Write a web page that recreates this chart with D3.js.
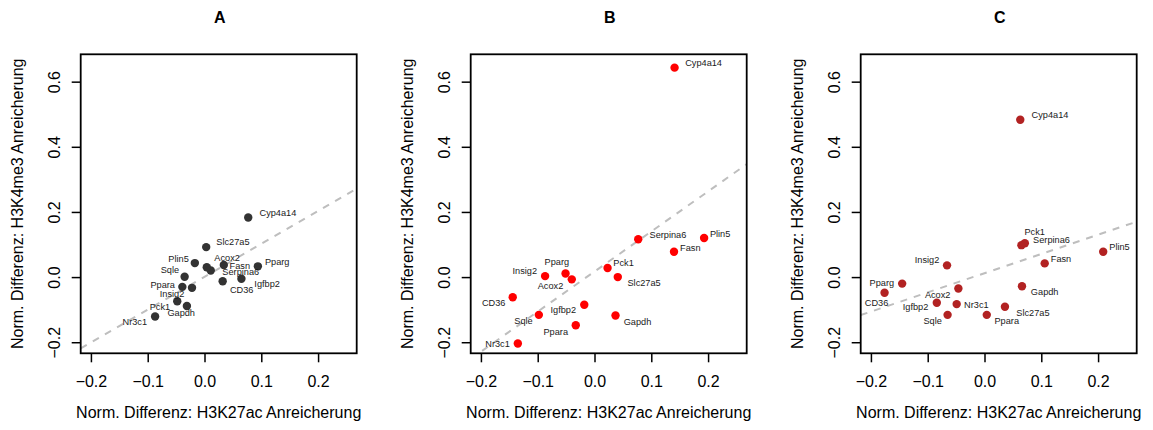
<!DOCTYPE html>
<html>
<head>
<meta charset="utf-8">
<script src="https://cdn.jsdelivr.net/npm/d3@7"></script>
<style>
  html, body { margin: 0; padding: 0; background: #fff; }
  svg { display: block; font-family: "Liberation Sans", Arial, Helvetica, sans-serif; }
</style>
</head>
<body>
<svg id="chart" width="1153" height="430"></svg>
<script>
// ---- data ----
const genes = ["Cyp4a14", "Serpina6", "Plin5", "Fasn", "Pck1", "Slc27a5", "Pparg", "Insig2",
               "Acox2", "CD36", "Igfbp2", "Sqle", "Gapdh", "Ppara", "Nr3c1"];

// H3K27ac (x) and H3K4me3 (y) normalised differences, one pair of arrays per panel
const xA = [0.077, 0.011, -0.017, 0.034, -0.048, 0.003, 0.094, -0.022, 0.004, 0.032, 0.065, -0.035, -0.031, -0.039, -0.087];
const yA = [0.183, 0.020, 0.043, 0.037, -0.074, 0.092, 0.033, -0.033, 0.030, -0.013, -0.005, 0.001, -0.089, -0.030, -0.121];

const xB = [0.141, 0.077, 0.193, 0.140, 0.023, 0.041, -0.051, -0.087, -0.040, -0.144, -0.018, -0.098, 0.037, -0.033, -0.135];
const yB = [0.643, 0.116, 0.120, 0.078, 0.028, 0.000, 0.011, 0.003, -0.007, -0.062, -0.085, -0.116, -0.118, -0.148, -0.204];

const xC = [0.063, 0.071, 0.209, 0.106, 0.065, 0.036, -0.145, -0.066, -0.046, -0.176, -0.084, -0.065, 0.066, 0.004, -0.049];
const yC = [0.483, 0.104, 0.078, 0.042, 0.098, -0.091, -0.020, 0.036, -0.035, -0.048, -0.079, -0.116, -0.028, -0.116, -0.083];

// fitted trend lines: [intercept, slope]
const fitA = [0.001, 1.01];
const fitB = [0.017, 1.23];
const fitC = [0.012, 0.59];

const panelTitles = ["A", "B", "C"];
const xTicks = [-0.2, -0.1, 0.0, 0.1, 0.2];
const yTicks = [-0.2, 0.0, 0.2, 0.4, 0.6];
const xLimits = [-0.2, 0.25];
const yLimits = [-0.2, 0.65];
const xTitle = "Norm. Differenz: H3K27ac Anreicherung";
const yTitle = "Norm. Differenz: H3K4me3 Anreicherung";

// ---- label placement (pixel nudges from each point, gene order) ----
const nudgeA = [[29.7,-5],[30,1],[-16.3,-4.7],[16,0.3],[-17.3,5.7],[26.7,-5.3],[19.3,-4.7],[-20,5.7],
                [20.3,-9.3],[19,8.7],[25.7,4.7],[-14.7,-7.3],[-5.7,6.7],[-19.7,-2],[-20.3,5.7]];
const nudgeB = [[29,-4.7],[29.7,-5],[16,-4.7],[16.3,-4],[16,-4.7],[26.3,5.7],[-8.7,-11.3],[-20.3,-5],
                [-21.3,6],[-19,6],[-21,5.3],[-15.3,5.7],[22,6],[-20,6],[-20.3,0]];
const nudgeC = [[29.7,-4.7],[26.7,-3.3],[16.3,-5.3],[16.3,-4.7],[13.3,-13.7],[28,6],[-20.3,-1],[-20,-5.3],
                [-20.7,6],[-8,10],[-21.3,4.3],[-15,5.7],[22.7,6],[20,5.7],[19.7,0.7]];

const panels = [
  { x: xA, y: yA, fit: fitA, nudge: nudgeA, color: "#333333" },
  { x: xB, y: yB, fit: fitB, nudge: nudgeB, color: "#ff0000" },
  { x: xC, y: yC, fit: fitC, nudge: nudgeC, color: "#b22222" }
];

// ---- layout ----
const svg = d3.select("#chart");
const plotW = 276, plotH = 299, plotTop = 54.3, firstLeft = 80.7, step = 390;
const pad = v => { const r = v[1] - v[0]; return [v[0] - 0.04 * r, v[1] + 0.04 * r]; };

const x = d3.scaleLinear().domain(pad(xLimits)).range([0, plotW]);
const y = d3.scaleLinear().domain(pad(yLimits)).range([plotH, 0]);
const fmt = d3.format(".1f");

panels.forEach((p, i) => {
  const left = firstLeft + i * step;
  const g = svg.append("g").attr("transform", `translate(${left},${plotTop})`);

  const clipId = "clip" + i;
  g.append("clipPath").attr("id", clipId)
    .append("rect").attr("width", plotW).attr("height", plotH);

  // trend line
  const [a, b] = p.fit;
  const xd = x.domain();
  g.append("line")
    .attr("clip-path", `url(#${clipId})`)
    .attr("x1", x(xd[0])).attr("y1", y(a + b * xd[0]))
    .attr("x2", x(xd[1])).attr("y2", y(a + b * xd[1]))
    .attr("stroke", "#bebebe").attr("stroke-width", 2)
    .attr("stroke-dasharray", "7,7");

  // points
  g.selectAll("circle.pt").data(genes).join("circle")
    .attr("class", "pt")
    .attr("cx", (d, k) => x(p.x[k]))
    .attr("cy", (d, k) => y(p.y[k]))
    .attr("r", 4.2)
    .attr("fill", p.color);

  // gene labels
  g.selectAll("text.lbl").data(genes).join("text")
    .attr("class", "lbl")
    .attr("x", (d, k) => x(p.x[k]) + p.nudge[k][0])
    .attr("y", (d, k) => y(p.y[k]) + p.nudge[k][1])
    .attr("dy", "0.35em")
    .attr("text-anchor", "middle")
    .attr("font-size", 9.2)
    .attr("fill", "#1a1a1a")
    .text(d => d);

  // x axis
  const gx = g.append("g").attr("transform", `translate(0,${plotH})`)
    .call(d3.axisBottom(x).tickValues(xTicks).tickSize(9).tickFormat(fmt));
  gx.select(".domain").remove();
  gx.selectAll("line").attr("stroke", "#000").attr("stroke-width", 1.5);
  gx.selectAll("text").attr("y", 33.7).attr("dy", null)
    .attr("font-size", 16).attr("fill", "#000")
    .attr("font-family", "'Liberation Sans', Arial, sans-serif");

  // y axis
  const gy = g.append("g")
    .call(d3.axisLeft(y).tickValues(yTicks).tickSize(9).tickFormat(fmt));
  gy.select(".domain").remove();
  gy.selectAll("line").attr("stroke", "#000").attr("stroke-width", 1.5);
  gy.selectAll("text").attr("x", null).attr("dy", null)
    .attr("transform", "translate(-20.7,0) rotate(-90)")
    .attr("text-anchor", "middle")
    .attr("font-size", 16).attr("fill", "#000")
    .attr("font-family", "'Liberation Sans', Arial, sans-serif");

  // frame
  g.append("rect").attr("width", plotW).attr("height", plotH)
    .attr("fill", "none").attr("stroke", "#000").attr("stroke-width", 1.8);

  // panel title
  g.append("text").attr("x", plotW / 2 + 1).attr("y", 22.7 - plotTop)
    .attr("text-anchor", "middle").attr("font-size", 16).attr("font-weight", "bold")
    .text(panelTitles[i]);

  // axis titles
  g.append("text").attr("x", plotW / 2).attr("y", 418 - plotTop)
    .attr("text-anchor", "middle").attr("font-size", 16).attr("fill", "#000")
    .text(xTitle);
  g.append("text")
    .attr("transform", `translate(${23.3 - firstLeft},${plotH / 2}) rotate(-90)`)
    .attr("text-anchor", "middle").attr("font-size", 16).attr("fill", "#000")
    .text(yTitle);
});
</script>
</body>
</html>
